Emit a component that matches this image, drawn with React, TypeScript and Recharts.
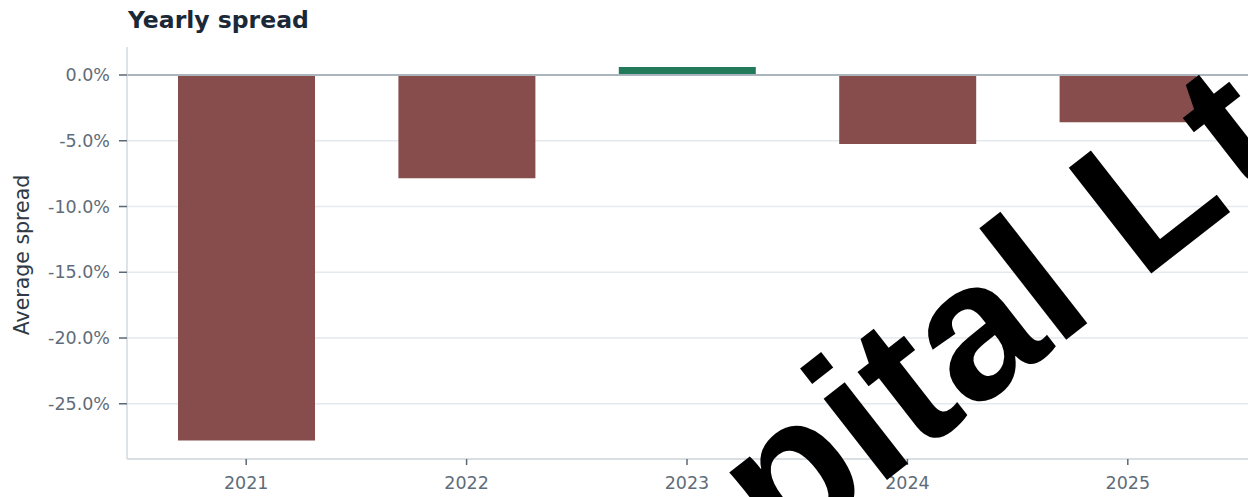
import React from 'react'
import { BarChart, Bar, Cell, XAxis, YAxis, CartesianGrid, ReferenceLine } from 'recharts'

const years = ['2021', '2022', '2023', '2024', '2025']
const spreadPct = [-27.8, -7.85, 0.6, -5.25, -3.6]
const yTicks = [-25, -20, -15, -10, -5, 0]

const NEG = '#874c4c'
const POS = '#227a5b'
const FONT = '"DejaVu Sans", sans-serif'

const data = years.map((year, i) => ({ year, spread: spreadPct[i] }))

export default function App() {
  return (
    <div style={{ position: 'absolute', left: 0, top: 0, width: 1248, height: 497, overflow: 'hidden', background: '#fff' }}>
      <BarChart
        width={1248}
        height={497}
        data={data}
        margin={{ top: 47, right: 0, bottom: 8, left: 0 }}
      >
        {/* horizontal grid only at the tick values, behind the bars */}
        <CartesianGrid
          vertical={false}
          horizontalValues={yTicks.filter((t) => t !== 0)}
          stroke="#e4e9ed"
          strokeWidth={1.5}
        />
        <XAxis
          dataKey="year"
          height={30}
          padding={{ left: 9, right: 10 }}
          tickSize={6}
          tickMargin={12}
          axisLine={{ stroke: '#cbd3d9', strokeWidth: 1.5 }}
          tickLine={{ stroke: '#5c6874', strokeWidth: 1.5 }}
          tick={{ fill: '#5f6c79', fontSize: 17.5, fontFamily: FONT }}
        />
        <YAxis
          type="number"
          width={127}
          domain={[-29.2, 2.13]}
          ticks={yTicks}
          allowDataOverflow
          tickSize={8}
          tickMargin={9}
          tickFormatter={(v: number) => `${v.toFixed(1)}%`}
          axisLine={{ stroke: '#d3dae0', strokeWidth: 1.5 }}
          tickLine={{ stroke: '#5c6874', strokeWidth: 1.5 }}
          tick={{ fill: '#5f6c79', fontSize: 17.5, fontFamily: FONT }}
        />
        <Bar dataKey="spread" barSize={137} isAnimationActive={false}>
          {data.map((d) => (
            <Cell key={d.year} fill={d.spread >= 0 ? POS : NEG} />
          ))}
        </Bar>
        <ReferenceLine y={0} stroke="#aab5be" strokeWidth={2} />
      </BarChart>

      {/* title, axis label and watermark on top */}
      <svg
        width={1248}
        height={497}
        style={{ position: 'absolute', left: 0, top: 0, pointerEvents: 'none' }}
      >
        <text x={128} y={28} fontFamily={FONT} fontWeight="bold" fontSize={23.5} fill="#1b2838">
          Yearly spread
        </text>
        <text
          x={22}
          y={255}
          transform="rotate(-90 22 255)"
          textAnchor="middle"
          dominantBaseline="central"
          fontFamily={FONT}
          fontSize={20.5}
          fill="#2f3a46"
        >
          Average spread
        </text>
        <text
          x={586}
          y={715}
          transform="rotate(-38 586 715)"
          fontFamily='"Liberation Sans", Arial, sans-serif'
          fontWeight="bold"
          fontSize={195}
          fill="#000"
        >
          Capital L<tspan dx={12}>td</tspan>
        </text>
      </svg>
    </div>
  )
}
